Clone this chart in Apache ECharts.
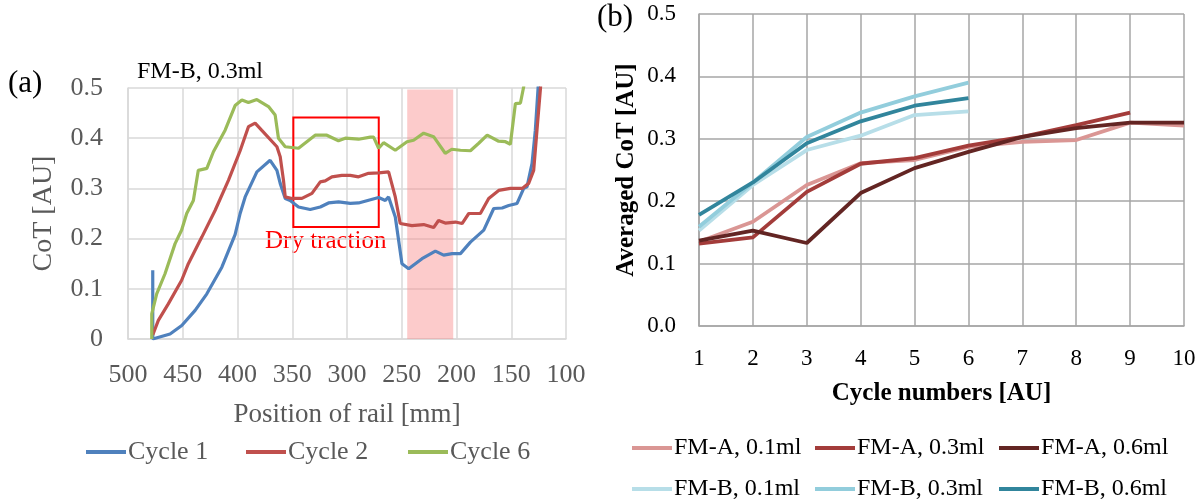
<!DOCTYPE html>
<html>
<head>
<meta charset="utf-8">
<script src="https://cdn.jsdelivr.net/npm/echarts@6/dist/echarts.min.js"></script>
<style>
  html, body { margin: 0; padding: 0; background: #fff; }
  #chart { width: 1203px; height: 502px; }
</style>
</head>
<body>
<div id="chart"></div>
<script>
// ---- Panel (a): CoT along the rail, FM-B 0.3 ml ----
const cycle1Pos = [477.4, 477.4, 461.6, 450.9, 438.7, 428, 414.3, 402.2, 397.6, 393, 382.3, 370.2, 364, 361, 356.4, 351.9, 344.3, 333.6, 324.4, 316.9, 307.7, 297, 289.4, 271.1, 265, 262, 255.9, 249.8, 243.7, 231.5, 219.3, 211.7, 204, 196.4, 187.3, 175.1, 166, 158.3, 152.3, 144.7, 138.6, 135.6, 131, 128, 125.5, 123.5];
const cycle1CoT = [0.137, 0.0, 0.010, 0.027, 0.057, 0.090, 0.143, 0.208, 0.25, 0.283, 0.333, 0.356, 0.336, 0.31, 0.28, 0.276, 0.263, 0.258, 0.263, 0.271, 0.273, 0.27, 0.271, 0.282, 0.276, 0.283, 0.243, 0.150, 0.140, 0.160, 0.175, 0.167, 0.17, 0.17, 0.193, 0.217, 0.26, 0.261, 0.266, 0.27, 0.30, 0.303, 0.35, 0.416, 0.5, 0.55];

const cycle2Pos = [477.4, 472.3, 463.2, 451, 444.9, 432.6, 420.5, 408.3, 397.6, 390, 383.9, 378, 364, 361, 358, 356.4, 350.3, 341.2, 332, 324.4, 319.9, 313.8, 304.7, 297, 289.4, 280.3, 271.1, 262, 255.9, 251.4, 240.7, 230, 220.9, 216.4, 210.3, 201, 194.9, 188.8, 178.2, 170.6, 161.5, 150.8, 140, 134.1, 129.5, 126.5, 123.3, 122];
const cycle2CoT = [0.008, 0.037, 0.07, 0.117, 0.15, 0.203, 0.256, 0.316, 0.375, 0.423, 0.43, 0.416, 0.383, 0.363, 0.316, 0.283, 0.28, 0.28, 0.29, 0.313, 0.315, 0.323, 0.326, 0.326, 0.323, 0.33, 0.331, 0.333, 0.283, 0.23, 0.226, 0.228, 0.222, 0.236, 0.231, 0.233, 0.23, 0.25, 0.25, 0.28, 0.296, 0.30, 0.30, 0.31, 0.336, 0.416, 0.5, 0.55];

const cycle6Pos = [478.3, 478.3, 473.8, 466.2, 457, 451, 446.4, 440.3, 435.8, 428, 422, 411.3, 402.2, 396, 390, 382.3, 371.7, 365.6, 362.6, 356.4, 344.3, 336.7, 329.1, 318.4, 307.8, 301.6, 289.4, 278.7, 275.7, 271.1, 266.6, 255.9, 245.2, 239.2, 230, 220.9, 210.3, 204.3, 196.4, 187.3, 179.7, 172, 161.5, 155.3, 150.8, 146.2, 141.6, 138.6, 137.5];
const cycle6CoT = [0.0, 0.05, 0.09, 0.13, 0.19, 0.217, 0.25, 0.276, 0.336, 0.34, 0.373, 0.416, 0.465, 0.476, 0.471, 0.477, 0.463, 0.446, 0.40, 0.383, 0.38, 0.393, 0.406, 0.406, 0.395, 0.40, 0.398, 0.402, 0.402, 0.38, 0.391, 0.376, 0.393, 0.396, 0.41, 0.403, 0.37, 0.378, 0.376, 0.375, 0.39, 0.406, 0.394, 0.393, 0.388, 0.469, 0.47, 0.503, 0.55];

// dry traction window (rail position range, CoT range) and shaded zone
const dryWindowPos = [349, 271];
const dryWindowCoT = [0.223, 0.441];
const shadedPos = [245, 203];
const shadedCoT = [0, 0.497];

// ---- Panel (b): averaged CoT per cycle ----
const cycles = [1, 2, 3, 4, 5, 6, 7, 8, 9, 10];
const fmA01 = [0.135, 0.167, 0.226, 0.261, 0.266, 0.287, 0.295, 0.298, 0.326, 0.321];
const fmA03 = [0.132, 0.142, 0.215, 0.260, 0.269, 0.289, 0.303, 0.322, 0.342, null];
const fmA06 = [0.137, 0.153, 0.133, 0.213, 0.253, 0.279, 0.303, 0.317, 0.326, 0.326];
const fmB01 = [0.153, 0.226, 0.282, 0.305, 0.338, 0.344, null, null, null, null];
const fmB03 = [0.159, 0.230, 0.303, 0.342, 0.368, 0.390, null, null, null, null];
const fmB06 = [0.178, 0.230, 0.293, 0.328, 0.353, 0.365, null, null, null, null];

const SERIF = 'Liberation Serif, Times New Roman, serif';
const GREY_TXT = '#595959';

function pairs(xs, ys) {
  const out = [];
  for (let i = 0; i < xs.length; i++) if (ys[i] !== null) out.push([xs[i], ys[i]]);
  return out;
}

function legendItem(name, left, centerY, fontSize, color) {
  return {
    data: [name], left: left, top: centerY - fontSize / 2, padding: 0,
    icon: 'rect', itemWidth: 40, itemHeight: 4, itemGap: 0,
    selectedMode: false,
    textStyle: { fontFamily: SERIF, fontSize: fontSize, color: color, padding: [0, 0, 0, -3] }
  };
}

const chart = echarts.init(document.getElementById('chart'));

const lineA = (name, pos, cot, color) => ({
  name: name, type: 'line', xAxisIndex: 0, yAxisIndex: 0,
  data: pairs(pos, cot), symbol: 'none', z: 2,
  lineStyle: { color: color, width: 3.2 }, itemStyle: { color: color }
});
const lineB = (name, vals, color) => ({
  name: name, type: 'line', xAxisIndex: 1, yAxisIndex: 1,
  data: pairs(cycles, vals), symbol: 'none', z: 2,
  lineStyle: { color: color, width: 3.8 }, itemStyle: { color: color }
});

chart.setOption({
  animation: false,
  backgroundColor: '#ffffff',
  grid: [
    { left: 128, top: 88, width: 438, height: 251 },
    { left: 699, top: 14, width: 485, height: 312 }
  ],
  xAxis: [
    {
      gridIndex: 0, type: 'value', min: 100, max: 500, interval: 50, inverse: true,
      name: 'Position of rail [mm]', nameLocation: 'middle', nameGap: 62,
      nameTextStyle: { fontFamily: SERIF, fontSize: 27, color: GREY_TXT },
      axisLine: { lineStyle: { color: '#D9D9D9', width: 1.5 } },
      axisTick: { show: false },
      axisLabel: { fontFamily: SERIF, fontSize: 26, color: GREY_TXT, margin: 23 },
      splitLine: { show: true, lineStyle: { color: '#D9D9D9', width: 1.5 } }
    },
    {
      gridIndex: 1, type: 'value', min: 1, max: 10, interval: 1,
      name: 'Cycle numbers [AU]', nameLocation: 'middle', nameGap: 55,
      nameTextStyle: { fontFamily: SERIF, fontSize: 25, fontWeight: 'bold', color: '#000' },
      axisLine: { lineStyle: { color: '#A6A6A6', width: 1.5 } },
      axisTick: { show: false },
      axisLabel: { fontFamily: SERIF, fontSize: 23, color: '#000', margin: 21 },
      splitLine: { show: true, lineStyle: { color: '#A6A6A6', width: 1.5 } }
    }
  ],
  yAxis: [
    {
      gridIndex: 0, type: 'value', min: 0, max: 0.5, interval: 0.1,
      name: 'CoT [AU]', nameLocation: 'middle', nameGap: 70,
      nameTextStyle: { fontFamily: SERIF, fontSize: 28, color: GREY_TXT },
      axisLine: { show: true, lineStyle: { color: '#D9D9D9', width: 1.5 } },
      axisTick: { show: false },
      axisLabel: { fontFamily: SERIF, fontSize: 26, color: GREY_TXT, margin: 25 },
      splitLine: { show: true, lineStyle: { color: '#D9D9D9', width: 1.5 } }
    },
    {
      gridIndex: 1, type: 'value', min: 0, max: 0.5, interval: 0.1,
      name: 'Averaged CoT [AU]', nameLocation: 'middle', nameGap: 60,
      nameTextStyle: { fontFamily: SERIF, fontSize: 25, fontWeight: 'bold', color: '#000' },
      axisLine: { show: true, lineStyle: { color: '#A6A6A6', width: 1.5 } },
      axisTick: { show: false },
      axisLabel: { fontFamily: SERIF, fontSize: 23, color: '#000', margin: 23,
                   formatter: v => v.toFixed(1) },
      splitLine: { show: true, lineStyle: { color: '#A6A6A6', width: 1.5 } }
    }
  ],
  legend: [
    legendItem('Cycle 1', 86, 452, 26, GREY_TXT),
    legendItem('Cycle 2', 246, 452, 26, GREY_TXT),
    legendItem('Cycle 6', 408, 452, 26, GREY_TXT),
    legendItem('FM-A, 0.1ml', 632, 448, 24, '#000'),
    legendItem('FM-A, 0.3ml', 815, 448, 24, '#000'),
    legendItem('FM-A, 0.6ml', 999, 448, 24, '#000'),
    legendItem('FM-B, 0.1ml', 632, 489, 24, '#000'),
    legendItem('FM-B, 0.3ml', 815, 489, 24, '#000'),
    legendItem('FM-B, 0.6ml', 999, 489, 24, '#000')
  ],
  graphic: [
    { type: 'text', left: 8, top: 68, style: { text: '(a)', font: '31px ' + SERIF, fill: '#000' } },
    { type: 'text', left: 597, top: 2, style: { text: '(b)', font: '31px ' + SERIF, fill: '#000' } },
    { type: 'text', left: 137, top: 60, style: { text: 'FM-B, 0.3ml', font: '24px ' + SERIF, fill: '#000' } },
    { type: 'text', left: 265, top: 229, style: { text: 'Dry traction', font: '25px ' + SERIF, fill: '#FF0000' } }
  ],
  series: [
    lineA('Cycle 1', cycle1Pos, cycle1CoT, '#4F81BD'),
    lineA('Cycle 2', cycle2Pos, cycle2CoT, '#C0504D'),
    lineA('Cycle 6', cycle6Pos, cycle6CoT, '#9BBB59'),
    {
      name: 'zones', type: 'line', xAxisIndex: 0, yAxisIndex: 0, data: [], z: 6, silent: true,
      markArea: {
        silent: true,
        data: [
          [
            { xAxis: shadedPos[0], yAxis: shadedCoT[0], itemStyle: { color: 'rgba(248,140,140,0.45)' } },
            { xAxis: shadedPos[1], yAxis: shadedCoT[1] }
          ],
          [
            { xAxis: dryWindowPos[0], yAxis: dryWindowCoT[0],
              itemStyle: { color: 'rgba(0,0,0,0)', borderColor: '#FF0000', borderWidth: 2 } },
            { xAxis: dryWindowPos[1], yAxis: dryWindowCoT[1] }
          ]
        ]
      }
    },
    lineB('FM-A, 0.1ml', fmA01, '#DA9694'),
    lineB('FM-A, 0.3ml', fmA03, '#A33C3A'),
    lineB('FM-A, 0.6ml', fmA06, '#632523'),
    lineB('FM-B, 0.1ml', fmB01, '#B7DEE8'),
    lineB('FM-B, 0.3ml', fmB03, '#92CDDC'),
    lineB('FM-B, 0.6ml', fmB06, '#31859C')
  ]
});
</script>
</body>
</html>
